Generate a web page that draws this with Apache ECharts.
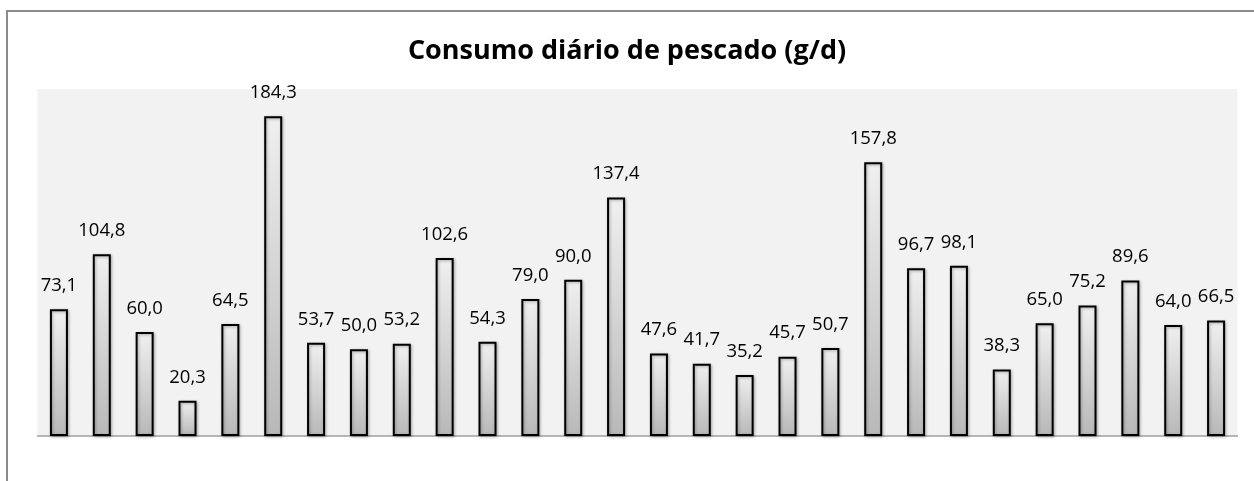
<!DOCTYPE html>
<html>
<head>
<meta charset="utf-8">
<script src="https://cdn.jsdelivr.net/npm/echarts@6/dist/echarts.min.js"></script>
<style>
  html, body { margin: 0; padding: 0; background: #fff; }
  #chart { width: 1254px; height: 481px; }
</style>
</head>
<body>
<div id="chart"></div>
<script>
var categories = ['1', '2', '3', '4', '5', '6', '7', '8', '9', '10', '11', '12', '13', '14',
                  '15', '16', '17', '18', '19', '20', '21', '22', '23', '24', '25', '26', '27', '28'];
var consumo = [73.1, 104.8, 60.0, 20.3, 64.5, 184.3, 53.7, 50.0, 53.2, 102.6, 54.3, 79.0, 90.0, 137.4,
               47.6, 41.7, 35.2, 45.7, 50.7, 157.8, 96.7, 98.1, 38.3, 65.0, 75.2, 89.6, 64.0, 66.5];
var titulo = 'Consumo diário de pescado (g/d)';

var chart = echarts.init(document.getElementById('chart'));
var option = {
    animation: false,
    title: {
        text: titulo,
        left: 'center',
        top: 33,
        textStyle: {
            fontFamily: 'Open Sans',
            fontSize: 27,
            fontWeight: 'bold',
            color: '#000'
        }
    },
    graphic: [{
        type: 'rect',
        shape: { x: 7, y: 11, width: 1400, height: 600 },
        style: { fill: 'none', stroke: '#8c8c8c', lineWidth: 2 },
        silent: true
    }],
    grid: {
        left: 37.5,
        right: 16.5,
        top: 89,
        bottom: 45,
        show: true,
        backgroundColor: '#f2f2f2',
        borderWidth: 0
    },
    xAxis: {
        type: 'category',
        data: categories,
        axisLine: { lineStyle: { color: '#a0a0a0', width: 1.5 } },
        axisTick: { show: false },
        axisLabel: { show: false }
    },
    yAxis: {
        type: 'value',
        min: 0,
        max: 200,
        show: false,
        splitLine: { show: false }
    },
    series: [{
        type: 'bar',
        data: consumo,
        barWidth: 18,
        itemStyle: {
            color: new echarts.graphic.LinearGradient(0, 0, 0, 1, [
                { offset: 0, color: '#f0f0f0' },
                { offset: 1, color: '#b8b8b8' }
            ]),
            borderColor: '#000',
            borderWidth: 2,
            shadowBlur: 3,
            shadowOffsetX: 1,
            shadowOffsetY: 1,
            shadowColor: 'rgba(0,0,0,0.3)'
        },
        label: {
            show: true,
            position: 'top',
            distance: 14,
            fontFamily: 'Open Sans',
            fontSize: 18.5,
            color: '#000',
            formatter: function (p) {
                return p.value.toFixed(1).replace('.', ',');
            }
        }
    }]
};
chart.setOption(option);
</script>
</body>
</html>
